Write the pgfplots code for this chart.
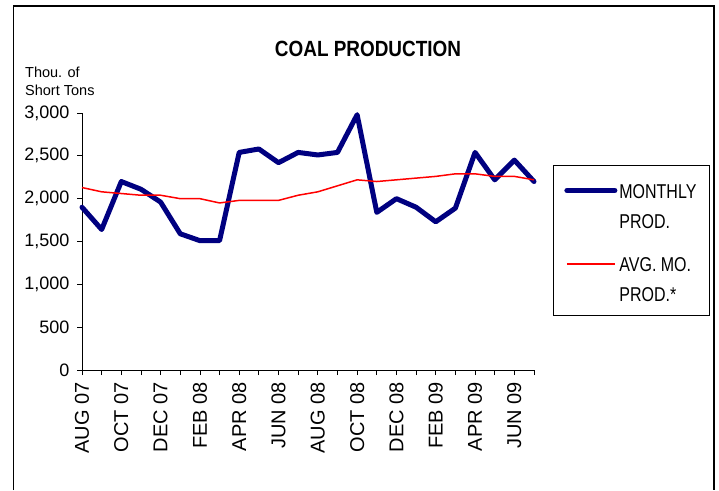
\documentclass[border=0pt]{standalone}
\usepackage{pgfplots}
\pgfplotsset{compat=1.18}
\usepackage{pgfplotstable}
\usepackage{fontspec}
\setmainfont{Liberation Sans}
\newfontfamily\condensed{Liberation Sans}[FakeStretch=0.8]
\newfontfamily\titlefont{Liberation Sans}[FakeStretch=0.86]
\definecolor{navy}{RGB}{0,0,128}
\definecolor{pred}{RGB}{255,0,0}

\pgfplotstableread{
x monthly avg
0 1900 2130
1 1640 2080
2 2200 2060
3 2110 2040
4 1960 2040
5 1590 2000
6 1510 2000
7 1510 1950
8 2540 1980
9 2580 1980
10 2420 1980
11 2540 2040
12 2510 2080
13 2540 2150
14 2980 2220
15 1840 2200
16 2000 2220
17 1900 2240
18 1730 2260
19 1890 2290
20 2540 2290
21 2220 2260
22 2450 2260
23 2200 2220
}\coal

\begin{document}
\begin{tikzpicture}[x=1pt,y=1pt]
\path[use as bounding box] (0,0) rectangle (719,490);
\draw[line width=1.2pt] (13.5,0) -- (13.5,484) -- (714,484) -- (714,0);
\node[font=\titlefont\bfseries\fontsize{22}{24}\selectfont] at (368,441) {COAL PRODUCTION};
\node[anchor=north west, align=left, font=\fontsize{14.5}{18}\selectfont, inner sep=0pt] at (25,423) {Thou. of\\Short Tons};
\begin{axis}[
  at={(82pt,120pt)}, anchor=south west,
  scale only axis, width=452pt, height=257pt,
  xmin=0, xmax=23, ymin=0, ymax=3000,
  clip=false,
  axis lines=left,
  axis line style={-, line width=0.8pt},
  tick align=outside,
  major tick length=5pt,
  tick style={black, line width=0.8pt},
  xtick={0,...,23},
  xticklabels={AUG 07,,OCT 07,,DEC 07,,FEB 08,,APR 08,,JUN 08,,AUG 08,,OCT 08,,DEC 08,,FEB 09,,APR 09,,JUN 09,},
  x tick label style={rotate=90, anchor=east, inner xsep=7pt, inner ysep=0pt, font=\fontsize{20}{22}\selectfont},
  ytick={0,500,...,3000},
  y tick label style={anchor=east, inner xsep=7.5pt, inner ysep=0pt, font=\fontsize{18}{20}\selectfont},
  /pgf/number format/assume math mode=true,
  /pgf/number format/1000 sep={,},
  legend style={at={(1.042,0.798)}, anchor=north west, draw=black, line width=0.8pt,
    font=\condensed\fontsize{20}{30}\selectfont,
    inner xsep=11pt, inner ysep=10pt, row sep=17pt,
    /tikz/every even column/.append style={column sep=3pt}},
  legend cell align=left,
  legend image code/.code={\draw[#1] (0pt,13pt) -- (48pt,13pt);},
]
\addplot[navy, line width=5pt, line join=round, line cap=round] table[x=x, y=monthly] {\coal};
\addlegendentry{\begin{tabular}[b]{@{}l@{}}MONTHLY\\PROD.\end{tabular}}
\addplot[pred, line width=1.5pt] table[x=x, y=avg] {\coal};
\addlegendentry{\begin{tabular}[b]{@{}l@{}}AVG. MO.\\PROD.*\end{tabular}}
\end{axis}
\end{tikzpicture}
\end{document}
